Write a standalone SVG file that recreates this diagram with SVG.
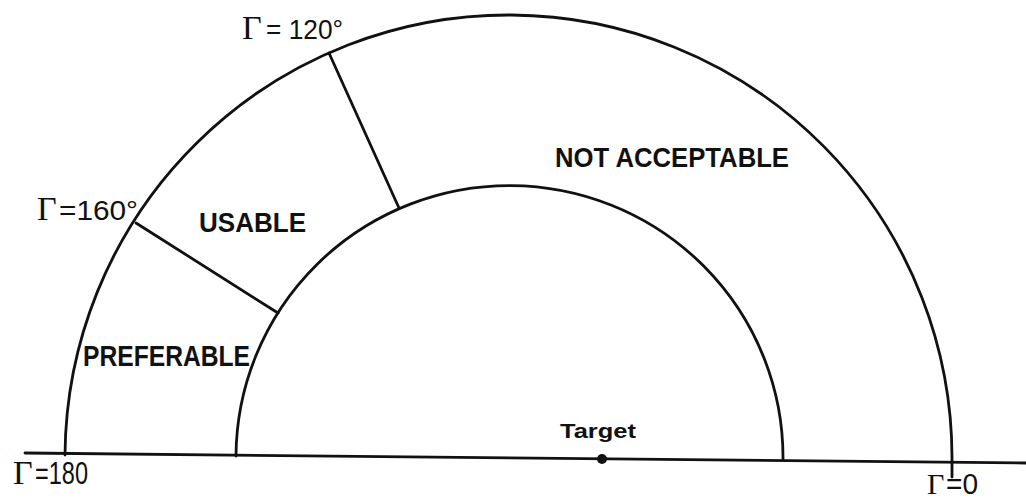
<svg xmlns="http://www.w3.org/2000/svg" width="1026" height="501" viewBox="0 0 1026 501">
<style>
.ln{fill:none;stroke:#111;stroke-width:2.8;stroke-linecap:round}
.lab{font-family:"Liberation Sans",Arial,sans-serif;font-weight:bold;fill:#111}
.g{font-family:"Liberation Serif","Times New Roman",serif;fill:#111}
.n{font-family:"Liberation Sans",Arial,sans-serif;fill:#111}
</style>
<rect width="1026" height="501" fill="#fff"/>
<g id="connectors">
<path class="ln" d="M25,453 L1026,463"/>
<path class="ln" d="M65,455 A443.5 443 0 0 1 952,461 L952,477"/>
<path class="ln" d="M236,456 A273.5 272 0 0 1 783,459"/>
<path class="ln" d="M329,53 L399,208"/>
<path class="ln" d="M136,223 L278,313"/>
</g>
<g id="target">
<circle cx="602" cy="459" r="5" fill="#111"/>
<text class="lab" x="598" y="438" font-size="21" text-anchor="middle" textLength="76" lengthAdjust="spacingAndGlyphs">Target</text>
</g>
<g id="region-preferable">
<text class="lab" x="83" y="366" font-size="29" textLength="167" lengthAdjust="spacingAndGlyphs">PREFERABLE</text>
</g>
<g id="region-usable">
<text class="lab" x="199" y="232" font-size="28" textLength="107" lengthAdjust="spacingAndGlyphs">USABLE</text>
</g>
<g id="region-not-acceptable">
<text class="lab" x="555" y="167" font-size="28" textLength="234" lengthAdjust="spacingAndGlyphs">NOT ACCEPTABLE</text>
</g>
<g id="label-180">
<text class="g" x="13" y="484" font-size="34">Γ</text>
<text class="n" x="35" y="484" font-size="31" textLength="53" lengthAdjust="spacingAndGlyphs">=180</text>
</g>
<g id="label-0">
<text class="g" x="927" y="494" font-size="30">Γ</text>
<text class="n" x="946" y="494" font-size="29" textLength="32" lengthAdjust="spacingAndGlyphs">=0</text>
</g>
<g id="label-120">
<text class="g" x="242" y="39" font-size="34">Γ</text>
<text class="n" x="266" y="39" font-size="28" textLength="77" lengthAdjust="spacingAndGlyphs">= 120°</text>
</g>
<g id="label-160">
<text class="g" x="37" y="220" font-size="34">Γ</text>
<text class="n" x="59" y="220" font-size="28" textLength="79" lengthAdjust="spacingAndGlyphs">=160°</text>
</g>
</svg>
